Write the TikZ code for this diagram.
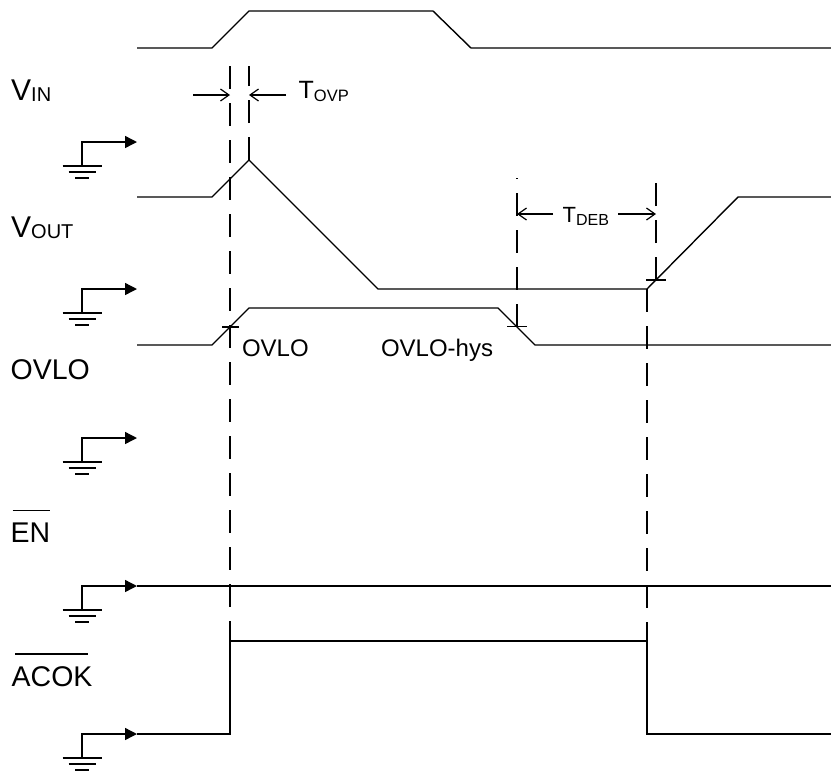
\documentclass[tikz,border=0pt]{standalone}
\usepackage{fontspec}
\setmainfont{Liberation Sans}
\usetikzlibrary{arrows.meta}
\newcommand\fsz[1]{\fontsize{#1}{#1}\selectfont}
\tikzset{
  gnd/.pic={
    \draw[gtip] (0,24) -- (0,0) -- (55,0);
    \draw[gbar] (-19.5,24) -- (19.5,24) (-13.5,30) -- (13.5,30) (-7,36) -- (7,36);
  }
}
\begin{document}
\begin{tikzpicture}[x=1pt,y=-1pt,
  wave/.style={line width=1.4pt, line join=miter},
  dline/.style={line width=1.4pt, dash pattern=on 23pt off 14pt},
  tickm/.style={line width=1.2pt},
  meas/.style={line width=1.2pt, -{Straight Barb[length=8.5pt,width=12pt]}},
  gtip/.style={line width=1.4pt, -{Triangle[length=12pt,width=12pt]}},
  gbar/.style={line width=2pt},
  lab/.style={inner sep=0pt, anchor=base west},
  ovl/.style={line width=1.3pt}
]
\useasboundingbox (0,0) rectangle (831,772);

% ground references
\pic at (82,142) {gnd};
\pic at (82,289) {gnd};
\pic at (82,438) {gnd};
\pic at (82,586) {gnd};
\pic at (82,734) {gnd};

% waveforms
\draw[wave] (137,48) -- (212,48) -- (249,11) -- (433,11) -- (471,48) -- (831,48);
\draw[wave] (137,197) -- (212,197) -- (249,160) -- (378,289) -- (647,289) -- (738,197) -- (831,197);
\draw[wave] (137,345) -- (212,345) -- (249,308) -- (498,308) -- (535,345) -- (831,345);
\draw[wave] (137,586) -- (831,586);
\draw[wave] (137,734) -- (230,734) -- (230,641) -- (647,641) -- (647,734) -- (831,734);

% dashed timing lines
\draw[dline] (230,66) -- (230,641);
\draw[dline] (249,160) -- (249,66);
\draw[dline] (517,326.5) -- (517,178);
\draw[dline] (656,280) -- (656,183);
\draw[dline] (647,289) -- (647,641);

% tick marks
\draw[tickm] (222,327) -- (239,327);
\draw[tickm] (507,326.5) -- (527,326.5);
\draw[tickm] (646,280) -- (666,280);

% measurement arrows
\coordinate (ovpA) at (193,95);
\coordinate (ovpB) at (230,95);
\coordinate (ovpC) at (286,95);
\coordinate (ovpD) at (249,95);
\coordinate (debA) at (553,214);
\coordinate (debB) at (517,214);
\coordinate (debC) at (618,214);
\coordinate (debD) at (656,214);
\draw[meas] (ovpA) -- (ovpB);
\draw[meas] (ovpC) -- (ovpD);
\draw[meas] (debA) -- (debB);
\draw[meas] (debC) -- (debD);

% labels
\node[lab] (vin) at (11,100) {\fsz{30}V\raisebox{-1.5pt}{\fsz{20}IN}};
\node[lab] (vout) at (11,237) {\fsz{30}V\raisebox{-1.5pt}{\fsz{20}OUT}};
\node[lab] (ovlol) at (10.5,379) {\fsz{28.5}OVLO};
\node[lab] (en) at (10.5,542) {\fsz{28.5}EN};
\node[lab] (acok) at (11.5,686) {\fsz{28.5}ACOK};
\draw[ovl] ([xshift=2pt,yshift=12pt]en.north west) -- ([yshift=12pt]en.north east);
\draw[ovl] ([xshift=3.5pt,yshift=12pt]acok.north west) -- ([xshift=-5pt,yshift=12pt]acok.north east);

\node[lab] (tovp) at (298.5,98) {\fsz{25}T\raisebox{-3pt}{\fsz{16.5}OVP}};
\node[lab] (tdeb) at (562.5,222) {\fsz{22}T\raisebox{-3.5pt}{\fsz{16}DEB}};
\node[lab] (ovlo) at (241.8,356) {\fsz{24}OVLO};
\node[lab] (ovlohys) at (380.8,356) {\fsz{24}OVLO-hys};
\end{tikzpicture}
\end{document}
